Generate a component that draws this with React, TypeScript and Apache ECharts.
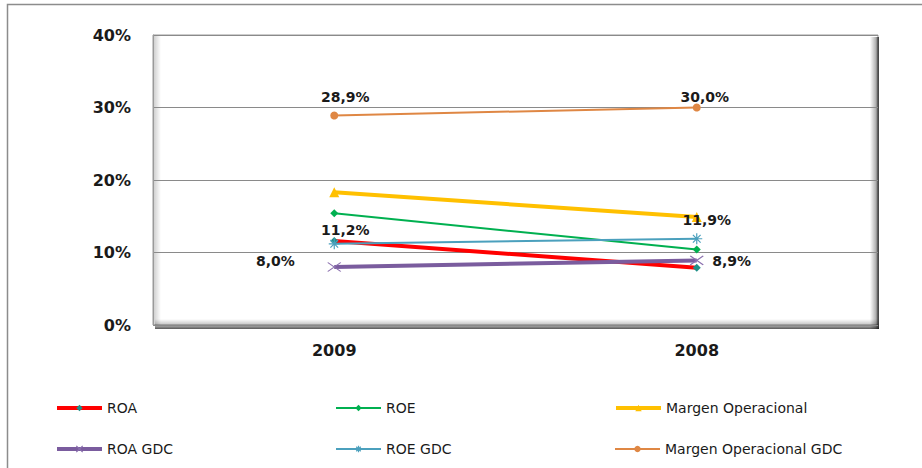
import React, { useEffect, useRef } from "react";
import * as echarts from "echarts";

const categories = ["2009", "2008"];
const yTicks = [0, 10, 20, 30, 40];
const roa = [11.6, 7.9];
const roe = [15.4, 10.4];
const margen = [18.3, 14.9];
const roaGdc = [8.0, 8.9];
const roeGdc = [11.2, 11.9];
const margenGdc = [28.9, 30.0];

const seriesNames = [
  "ROA",
  "ROE",
  "Margen Operacional",
  "ROA GDC",
  "ROE GDC",
  "Margen Operacional GDC",
];

const fmt = (v: number) => v.toFixed(1).replace(".", ",") + "%";

const labelFont = {
  fontFamily: "DejaVu Sans",
  fontWeight: "bold" as const,
  fontSize: 14,
  color: "#1a1a1a",
};

const X_PATH = "path://M0,0L10,10M10,0L0,10";
const STAR_PATH = "path://M0,5L10,5M5,0L5,10M1.5,1.5L8.5,8.5M8.5,1.5L1.5,8.5";

const lineColors = ["#ff0000", "#00b050", "#ffc000", "#7a5c9e", "#4ba0bd", "#df8744"];
const lineWidths = [4, 2, 4, 4, 2, 2];

export default function App() {
  const ref = useRef<HTMLDivElement>(null);
  useEffect(() => {
    if (!ref.current) return;
    const chart = echarts.init(ref.current, null, { renderer: "svg" });
    const gl = 153, gt = 35, gr = 878, gb = 325;

    const withLabels = (vals: number[], labels: (object | null)[]) =>
      vals.map((v, i) =>
        labels[i]
          ? { value: v, label: { show: true, formatter: () => fmt(v), ...labelFont, ...labels[i] } }
          : { value: v }
      );

    const legendPos = [
      [55, 401],
      [335, 401],
      [614, 401],
      [55, 442],
      [335, 442],
      [614, 442],
    ];

    const legendItemStyles: object[] = [
      { color: "#1f8f88" },
      { color: "#00b050" },
      { color: "#ffc000" },
      { color: "none", borderColor: "#8a6fae", borderWidth: 1.2 },
      { color: "none", borderColor: "#4ba0bd", borderWidth: 1.2 },
      { color: "#df8744" },
    ];

    chart.setOption({
      animation: false,
      backgroundColor: "#ffffff",
      grid: { left: gl, top: gt, right: 922 - gr, bottom: 468 - gb, show: false },
      graphic: [
        {
          type: "rect",
          z: -10,
          shape: { x: 7.5, y: 4.5, width: 940, height: 480 },
          style: { fill: "none", stroke: "#8c8c8c", lineWidth: 1.5 },
          silent: true,
        },
        {
          type: "rect",
          z: -5,
          shape: { x: gl, y: gt, width: gr - gl, height: gb - gt },
          style: { fill: "#ffffff", stroke: "#9a9a9a", lineWidth: 1 },
          silent: true,
        },
        {
          type: "rect",
          z: -4,
          shape: { x: gl + 1, y: gt + 1, width: 7, height: gb - gt - 1 },
          style: {
            fill: new echarts.graphic.LinearGradient(0, 0, 1, 0, [
              { offset: 0, color: "rgba(0,0,0,0.18)" },
              { offset: 1, color: "rgba(0,0,0,0)" },
            ]),
          },
          silent: true,
        },
        {
          type: "rect",
          z: -4,
          shape: { x: gr - 8, y: gt + 2, width: 9, height: gb - gt + 2 },
          style: {
            fill: new echarts.graphic.LinearGradient(0, 0, 1, 0, [
              { offset: 0, color: "rgba(0,0,0,0)" },
              { offset: 0.6, color: "rgba(0,0,0,0.28)" },
              { offset: 1, color: "rgba(0,0,0,0.7)" },
            ]),
          },
          silent: true,
        },
        {
          type: "rect",
          z: -4,
          shape: { x: gl + 2, y: gb - 6, width: gr - gl - 1, height: 10 },
          style: {
            fill: new echarts.graphic.LinearGradient(0, 0, 0, 1, [
              { offset: 0, color: "rgba(0,0,0,0)" },
              { offset: 0.55, color: "rgba(0,0,0,0.22)" },
              { offset: 1, color: "rgba(0,0,0,0.65)" },
            ]),
          },
          silent: true,
        },
      ],
      xAxis: {
        type: "category",
        data: categories,
        boundaryGap: true,
        axisLine: { show: false },
        axisTick: { show: false },
        axisLabel: {
          margin: 17,
          fontFamily: "DejaVu Sans",
          fontWeight: "bold",
          fontSize: 16,
          color: "#1a1a1a",
        },
      },
      yAxis: {
        type: "value",
        min: yTicks[0],
        max: yTicks[yTicks.length - 1],
        interval: 10,
        axisLine: { show: true, lineStyle: { color: "#9a9a9a", width: 1 } },
        axisTick: { show: false },
        splitLine: { show: true, lineStyle: { color: "#8a8a8a", width: 1 } },
        axisLabel: {
          margin: 22,
          formatter: "{value}%",
          fontFamily: "DejaVu Sans",
          fontWeight: "bold",
          fontSize: 16,
          color: "#1a1a1a",
        },
      },
      legend: seriesNames.map((n, i) => ({
        data: [
          {
            name: n,
            lineStyle: { color: lineColors[i], width: lineWidths[i] },
            itemStyle: legendItemStyles[i],
          },
        ],
        left: legendPos[i][0],
        top: legendPos[i][1],
        padding: 0,
        itemWidth: 45,
        itemHeight: 8,
        selectedMode: false,
        textStyle: { fontFamily: "DejaVu Sans", fontSize: 14, color: "#1a1a1a" },
      })),
      series: [
        {
          name: "ROA",
          type: "line",
          data: roa,
          symbol: "diamond",
          symbolSize: 8,
          lineStyle: { color: lineColors[0], width: lineWidths[0] },
          itemStyle: { color: "#1f8f88" },
          silent: true,
        },
        {
          name: "ROE",
          type: "line",
          data: roe,
          symbol: "diamond",
          symbolSize: 8,
          lineStyle: { color: lineColors[1], width: lineWidths[1] },
          itemStyle: { color: "#00b050" },
          silent: true,
        },
        {
          name: "Margen Operacional",
          type: "line",
          data: margen,
          symbol: "triangle",
          symbolSize: 10,
          lineStyle: { color: lineColors[2], width: lineWidths[2] },
          itemStyle: { color: "#ffc000" },
          silent: true,
        },
        {
          name: "ROA GDC",
          type: "line",
          data: withLabels(roaGdc, [
            { position: "left", distance: 30, offset: [0, -6] },
            { position: "right", distance: 6, offset: [0, 1] },
          ]),
          symbol: X_PATH,
          symbolSize: [13, 9],
          lineStyle: { color: lineColors[3], width: lineWidths[3] },
          itemStyle: { color: "none", borderColor: "#8a6fae", borderWidth: 1.2 },
          silent: true,
        },
        {
          name: "ROE GDC",
          type: "line",
          data: withLabels(roeGdc, [
            { position: "top", distance: 5, offset: [11, 6] },
            { position: "top", distance: 11, offset: [10, 7] },
          ]),
          symbol: STAR_PATH,
          symbolSize: 11,
          lineStyle: { color: lineColors[4], width: lineWidths[4] },
          itemStyle: { color: "none", borderColor: "#4ba0bd", borderWidth: 1.2 },
          silent: true,
        },
        {
          name: "Margen Operacional GDC",
          type: "line",
          data: withLabels(margenGdc, [
            { position: "top", distance: 11, offset: [11, 4] },
            { position: "top", distance: 4, offset: [8, 4] },
          ]),
          symbol: "circle",
          symbolSize: 8,
          lineStyle: { color: lineColors[5], width: lineWidths[5] },
          itemStyle: { color: "#df8744" },
          silent: true,
        },
      ],
    });
    return () => chart.dispose();
  }, []);
  return (
    <div
      ref={ref}
      style={{ position: "absolute", left: 0, top: 0, width: 922, height: 468 }}
    />
  );
}
